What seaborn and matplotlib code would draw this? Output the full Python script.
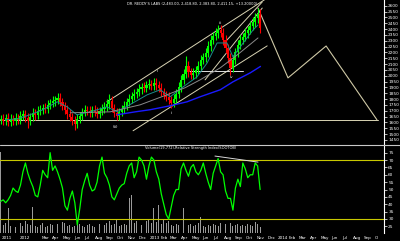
import matplotlib
matplotlib.use("Agg")
import matplotlib.pyplot as plt
from matplotlib.lines import Line2D
import numpy as np
import pandas as pd
import seaborn as sns

sns.set_theme(style="dark")
plt.rcParams["font.family"] = ["DejaVu Sans"]
plt.rcParams.update({
    "axes.facecolor": "black", "figure.facecolor": "black",
    "text.color": "white", "xtick.color": "white", "ytick.color": "white",
    "axes.edgecolor": "white", "axes.grid": False,
})

# ---------------- data ----------------
title = "DR. REDDY'S LABS (2,483.00, 2,418.80, 2,383.80, 2,411.15, +13.20000)"
rsi_title = "Volume(19,772),Relative Strength Index(SOOTOB)"

first_week = "2011-11-07"

close = [1632, 1615, 1640, 1606, 1632, 1615, 1640, 1623, 1657, 1674,
         1640, 1615, 1649, 1683, 1666, 1700, 1709, 1726, 1717, 1751,
         1768, 1785, 1794, 1811, 1777, 1743, 1709, 1674, 1649, 1615,
         1589, 1632, 1657, 1691, 1709, 1700, 1683, 1709, 1691, 1674,
         1700, 1717, 1734, 1760, 1785, 1726, 1683, 1657, 1691, 1717,
         1743, 1777, 1803, 1828, 1845, 1862, 1888, 1905, 1897, 1922,
         1931, 1914, 1939, 1922, 1897, 1862, 1837, 1820, 1794, 1768,
         1803, 1845, 1905, 1965, 2016, 2085, 2033, 2008, 2025, 2050,
         2085, 2136, 2162, 2196, 2256, 2307, 2341, 2367, 2392, 2367,
         2307, 2238, 2153, 2068, 2136, 2204, 2264, 2307, 2332, 2367,
         2392, 2427, 2461, 2495, 2529, 2411]

opens = [1625, 1632, 1615, 1640, 1606, 1632, 1615, 1640, 1623, 1657,
         1674, 1640, 1615, 1649, 1683, 1666, 1700, 1709, 1726, 1717,
         1751, 1768, 1785, 1794, 1811, 1777, 1743, 1709, 1674, 1649,
         1615, 1589, 1632, 1657, 1691, 1709, 1700, 1683, 1709, 1691,
         1674, 1700, 1717, 1734, 1760, 1785, 1726, 1683, 1657, 1691,
         1717, 1743, 1777, 1803, 1828, 1845, 1862, 1888, 1905, 1897,
         1922, 1931, 1914, 1939, 1922, 1897, 1862, 1837, 1820, 1794,
         1768, 1803, 1845, 1905, 1965, 2016, 2085, 2033, 2008, 2025,
         2050, 2085, 2136, 2162, 2196, 2256, 2307, 2341, 2367, 2392,
         2367, 2307, 2238, 2153, 2068, 2136, 2204, 2264, 2307, 2332,
         2367, 2392, 2427, 2461, 2495, 2529]

wick_up = [35, 40, 33, 45, 37, 35, 41, 33, 39, 35,
           37, 40, 35, 43, 33, 37, 40, 35, 39, 41,
           37, 43, 35, 45, 39, 35, 33, 37, 40, 35,
           39, 43, 35, 37, 41, 35, 39, 33, 37, 40,
           35, 39, 43, 37, 55, 40, 35, 39, 37, 33,
           41, 35, 39, 37, 43, 35, 40, 37, 39, 35,
           41, 37, 45, 39, 35, 40, 37, 33, 39, 35,
           37, 43, 39, 45, 41, 85, 43, 37, 40, 35,
           39, 43, 37, 41, 45, 39, 37, 40, 43, 39,
           41, 45, 37, 43, 39, 37, 41, 39, 35, 40,
           37, 41, 39, 43, 51, 45]

wick_dn = [37, 35, 40, 35, 39, 37, 33, 40, 35, 37,
           39, 65, 35, 37, 41, 33, 37, 35, 39, 35,
           37, 33, 40, 35, 37, 39, 35, 41, 37, 40,
           50, 37, 35, 39, 33, 37, 40, 35, 39, 37,
           33, 37, 39, 35, 41, 37, 40, 35, 39, 33,
           37, 35, 40, 33, 37, 39, 35, 41, 37, 35,
           39, 37, 35, 40, 37, 33, 39, 35, 37, 43,
           35, 39, 37, 41, 35, 39, 43, 37, 35, 40,
           37, 39, 35, 41, 37, 43, 39, 35, 40, 37,
           41, 45, 43, 60, 39, 37, 41, 35, 39, 37,
           40, 35, 37, 41, 39, 43]

rsi = [42, 43, 41, 43, 46, 51, 49, 48, 53, 62,
       68, 61, 56, 52, 46, 45, 53, 63, 60, 58,
       75, 63, 66, 62, 57, 51, 39, 36, 44, 49,
       41, 26, 37, 50, 56, 61, 53, 49, 50, 55,
       66, 72, 61, 58, 53, 45, 43, 47, 51, 53,
       54, 61, 66, 68, 58, 62, 72, 70, 66, 57,
       66, 72, 70, 62, 57, 47, 40, 33, 30, 38,
       46, 50, 50, 64, 68, 63, 59, 65, 67, 62,
       60, 63, 68, 61, 55, 50, 61, 66, 71, 62,
       60, 49, 44, 44, 36, 51, 57, 52, 68, 64,
       58, 60, 60, 68, 66, 50]

volume_k = [1840, 182, 227, 568, 159, 204, 136, 182, 227, 159,
            272, 204, 182, 590, 159, 136, 182, 227, 136, 159,
            204, 182, 136, 204, 227, 250, 227, 159, 182, 136,
            159, 272, 204, 159, 136, 182, 204, 159, 136, 182,
            204, 159, 182, 227, 272, 182, 204, 295, 159, 182,
            204, 182, 795, 863, 227, 272, 204, 182, 227, 272,
            318, 227, 568, 250, 636, 204, 295, 227, 272, 182,
            159, 204, 182, 272, 568, 227, 182, 204, 159, 182,
            227, 363, 159, 136, 182, 159, 204, 182, 159, 227,
            318, 204, 182, 227, 159, 182, 204, 159, 182, 159,
            204, 182, 159, 250, 204, 136]

ma_long_dates = ["2012-10-02", "2012-11-22", "2013-01-03", "2013-03-01", "2013-04-18",
                 "2013-05-25", "2013-07-21", "2013-08-26", "2013-10-14", "2013-11-12"]
ma_long_vals = [1666, 1691, 1709, 1743, 1777, 1820, 1880, 1948, 2025, 2080]

ma_mid_dates = ["2012-05-22", "2012-09-12", "2012-12-06", "2013-02-20", "2013-04-12",
                "2013-05-25", "2013-07-21", "2013-09-07", "2013-11-05"]
ma_mid_vals = [1683, 1691, 1751, 1837, 1897, 1965, 2068, 2178, 2324]

ma_short_dates = ["2011-11-20", "2011-12-26", "2012-01-29", "2012-03-06", "2012-04-15",
                  "2012-05-13", "2012-06-10", "2012-07-17", "2012-09-03", "2012-10-02",
                  "2012-11-16", "2012-12-26", "2013-02-01", "2013-03-01", "2013-04-07",
                  "2013-05-16", "2013-06-14", "2013-07-12", "2013-08-09", "2013-08-26",
                  "2013-09-24", "2013-10-22", "2013-11-05"]
ma_short_vals = [1623, 1632, 1666, 1709, 1777, 1734, 1666, 1691, 1734, 1691,
                 1768, 1837, 1880, 1820, 1905, 1990, 2110, 2281, 2281, 2162,
                 2281, 2392, 2435]

trend_lines = [
    (["2012-09-03", "2013-11-25"], [1777, 2654]),   # upper channel
    (["2012-11-16", "2013-12-01"], [1529, 2256]),   # lower channel
    (["2013-06-08", "2013-11-17"], [1965, 2580]),   # steep support
    (["2013-08-04", "2013-11-17"], [2290, 2632]),   # steep resistance
    (["2011-11-05", "2014-10-10"], [1623, 1623]),   # horizontal support
]
level_iv = (["2013-04-18", "2013-09-24"], [2042, 2042])
proj_dates = ["2013-11-05", "2014-01-29", "2014-05-17", "2014-10-08"]
proj_vals = [2580, 1982, 2255, 1623]

div_dates = ["2013-07-06", "2013-11-05"]
div_vals = [72.7, 68.6]

wave_labels = ["iii", "iv", "i", "ii", "(ii)"]
wave_dates = ["2013-07-21", "2013-08-21", "2013-01-23", "2013-03-07", "2012-09-26"]
wave_vals = [2452, 1990, 2042, 1683, 1563]

price_ticks = list(range(1450, 2601, 50))
rsi_ticks = list(range(25, 76, 5))
rsi_levels = [70, 30]

month_dates = ["2011-11-10", "2012-01-01", "2012-03-01", "2012-04-01", "2012-05-01",
               "2012-06-01", "2012-07-01", "2012-08-01", "2012-09-01", "2012-10-01",
               "2012-11-01", "2012-12-01", "2013-01-01", "2013-02-01", "2013-03-01",
               "2013-04-01", "2013-05-01", "2013-06-01", "2013-07-01", "2013-08-01",
               "2013-09-01", "2013-10-01", "2013-11-01", "2013-12-01", "2014-01-01",
               "2014-02-01", "2014-03-01", "2014-04-01", "2014-05-01", "2014-06-01",
               "2014-07-01", "2014-08-01", "2014-09-01", "2014-10-01"]
month_labels = ["2011", "2012", "Mar", "Apr", "May", "Jun", "Jul", "Aug", "Sep", "Oct",
                "Nov", "Dec", "2013", "Feb", "Mar", "Apr", "May", "Jun", "Jul", "Aug",
                "Sep", "Oct", "Nov", "Dec", "2014", "Feb", "Mar", "Apr", "May", "Jun",
                "Jul", "Aug", "Sep", "O"]

# ---------------- styles ----------------
GREEN = "#00ff00"
RED = "#ff0000"
KHAKI = "#d9d4b4"
YELLOW = "#c8c800"
W, H = 400, 241

weeks = pd.date_range(first_week, periods=len(close), freq="7D")
o = np.array(opens, float)
c = np.array(close, float)
hi = np.maximum(o, c) + np.array(wick_up)
lo = np.minimum(o, c) - np.array(wick_dn)
cols = np.where(c >= o, GREEN, RED)

fig = plt.figure(figsize=(W / 100, H / 100), dpi=100)
axp = fig.add_axes([0, 96 / H, 384 / W, 145 / H])
axv = fig.add_axes([0, 8 / H, 384 / W, 88 / H], sharex=axp)
axr = axv.twinx()

xlim = (pd.Timestamp("2011-11-05"), pd.Timestamp("2014-10-28"))

# price panel
for xs, ys in trend_lines:
    axp.plot(pd.to_datetime(xs), ys, color=KHAKI, lw=0.7, zorder=2)
axp.plot(pd.to_datetime(level_iv[0]), level_iv[1], color="#e0e0e0", lw=0.7, zorder=2)
sns.lineplot(x=pd.to_datetime(proj_dates), y=proj_vals, ax=axp, color="#cfc9a6", lw=0.8, zorder=2)

axp.vlines(weeks, lo, hi, colors=cols, lw=0.8, zorder=3)
axp.bar(weeks, c - o, bottom=o, width=6, color=cols, linewidth=0, zorder=3)

sns.lineplot(x=pd.to_datetime(ma_short_dates), y=ma_short_vals, ax=axp, color="#1a8c8c", lw=0.7, zorder=4)
sns.lineplot(x=pd.to_datetime(ma_mid_dates), y=ma_mid_vals, ax=axp, color="#8a8a8a", lw=0.7, zorder=4)
sns.lineplot(x=pd.to_datetime(ma_long_dates), y=ma_long_vals, ax=axp, color="#1a1aff", lw=1.0, zorder=4)

for t, d, v in zip(wave_labels, wave_dates, wave_vals):
    axp.text(pd.Timestamp(d), v, t, color="white", fontsize=3, ha="center", va="center", zorder=5)

axp.set_xlim(*xlim)
axp.set_ylim(1407, 2649)
axp.set_yticks(price_ticks)
axp.yaxis.tick_right()
axp.tick_params(axis="y", labelsize=3.1, length=2, width=0.5, pad=1, colors="white")
axp.tick_params(axis="x", bottom=False, labelbottom=False)
axp.set_xlabel(""); axp.set_ylabel("")
for s in ["top", "left", "bottom"]:
    axp.spines[s].set_visible(False)
axp.spines["right"].set_color("white")
axp.spines["right"].set_linewidth(0.8)

# volume + rsi panel
axv.bar(weeks, volume_k, width=2.5, color="#9a9a9a", linewidth=0)
axv.set_ylim(0, 2000)
axv.set_yticks([])
for s in ["top", "left", "bottom", "right"]:
    axv.spines[s].set_visible(False)
axv.set_xticks(pd.to_datetime(month_dates))
axv.set_xticklabels(month_labels, ha="left")
axv.tick_params(axis="x", labelsize=3, length=2, width=0.4, pad=0.5, colors="white")
axv.set_xlim(*xlim)

for lv in rsi_levels:
    axr.axhline(lv, color=YELLOW, lw=0.8, zorder=1)
sns.lineplot(x=weeks, y=rsi, ax=axr, color=GREEN, lw=0.9, zorder=3)
axr.plot(pd.to_datetime(div_dates), div_vals, color="#d8d8d8", lw=0.7, zorder=4)
axr.set_ylim(20.5, 80.2)
axr.set_yticks(rsi_ticks)
axr.tick_params(axis="y", labelsize=3.1, length=2, width=0.5, pad=1, colors="white")
axr.set_xlabel(""); axr.set_ylabel("")
for s in ["top", "left", "bottom"]:
    axr.spines[s].set_visible(False)
axr.spines["right"].set_color("white")
axr.spines["right"].set_linewidth(0.8)
axr.patch.set_visible(False)

fig.add_artist(Line2D([0, 1], [96 / H, 96 / H], color="#c8c8c8", lw=0.8, transform=fig.transFigure))
fig.text(0.481, 1 - 4 / H, title, ha="center", va="center", fontsize=2.6, color="white")
fig.text(145 / W, 1 - 148 / H, rsi_title, ha="left", va="center", fontsize=2.6, color="white")

fig.savefig("out.png", dpi=100, facecolor="black")
